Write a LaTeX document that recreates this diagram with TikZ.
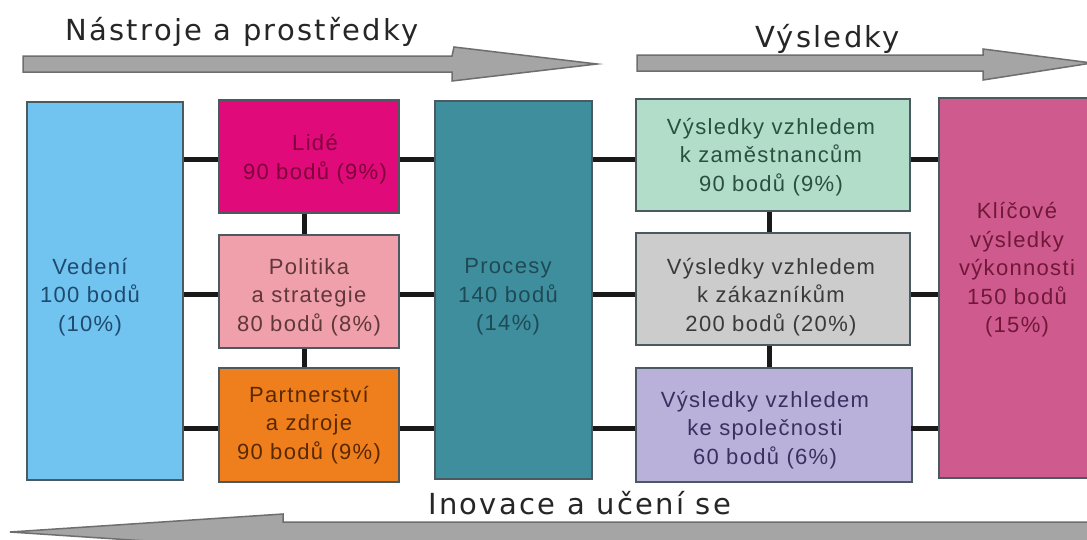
\documentclass[tikz,border=0pt]{standalone}
\usepackage{fontspec}
\setmainfont{Liberation Sans}[LetterSpace=6]
\newfontfamily\titlefont{DejaVu Sans}[LetterSpace=8]
\definecolor{cVed}{HTML}{72C4F0}
\definecolor{cLid}{HTML}{E00A7A}
\definecolor{cPol}{HTML}{F0A0AA}
\definecolor{cPar}{HTML}{EE7F1C}
\definecolor{cPro}{HTML}{3E8E9E}
\definecolor{cZam}{HTML}{B2DEC9}
\definecolor{cZak}{HTML}{CCCCCC}
\definecolor{cSpo}{HTML}{B9B1DA}
\definecolor{cKli}{HTML}{CF5A8E}
\definecolor{tVed}{HTML}{1E4A70}
\definecolor{tLid}{HTML}{80003A}
\definecolor{tPol}{HTML}{603838}
\definecolor{tPar}{HTML}{5A2800}
\definecolor{tPro}{HTML}{1E4A55}
\definecolor{tZam}{HTML}{2A5040}
\definecolor{tZak}{HTML}{3A3A3A}
\definecolor{tSpo}{HTML}{3A3060}
\definecolor{tKli}{HTML}{701838}
\definecolor{arrfill}{HTML}{A5A5A5}
\definecolor{arrline}{HTML}{6E6E6E}
\definecolor{boxline}{HTML}{4A5A60}
\begin{document}
\begin{tikzpicture}[x=1pt,y=-1pt,
  box/.style={draw=boxline, line width=1.3pt, rectangle, inner sep=0pt},
  txt/.style={align=center, inner sep=0pt, font=\fontsize{22}{28.5}\selectfont},
  ttl/.style={inner sep=0pt, font=\titlefont\fontsize{29}{34}\selectfont, text=black!85},
  conn/.style={line width=5pt, draw=black!90},
  bigarrow/.style={fill=arrfill, draw=arrline, line width=1.5pt, line join=miter}]
\useasboundingbox (0,0) rectangle (1087,539);
\clip (0,0) rectangle (1087,539);
\fill[white] (0,0) rectangle (1087,539);

% big arrows
\draw[bigarrow] (23,56) -- (452,56) -- (454,47) -- (597,64) -- (452,81) -- (452,72) -- (23,72) -- cycle;
\draw[bigarrow] (637,55) -- (983,55) -- (983,49) -- (1092,63) -- (983,80) -- (983,71) -- (637,71) -- cycle;
\draw[bigarrow] (1095,522) -- (283,522) -- (283,514) -- (10,532) -- (283,550) -- (283,542) -- (1095,542) -- cycle;

% titles
\node[ttl, anchor=base west] (t1) at (65,40) {Nástroje a prostředky};
\node[ttl, anchor=base west] (t2) at (755,47) {Výsledky};
\node[ttl, anchor=base west] (t3) at (428,514) {Inovace a učení se};

% row coordinates
\coordinate (r1) at (0,159);
\coordinate (r2) at (0,294);
\coordinate (r3) at (0,428);
\coordinate (c2) at (304,0);
\coordinate (c4) at (769,0);

% boxes
\node[box, fill=cVed, minimum width=156pt, minimum height=378pt] (ved) at (105,291) {};
\node[box, fill=cLid, minimum width=180pt, minimum height=113pt] (lid) at (309,156.5) {};
\node[box, fill=cPol, minimum width=180pt, minimum height=113pt] (pol) at (309,291.5) {};
\node[box, fill=cPar, minimum width=180pt, minimum height=114pt] (par) at (309,425) {};
\node[box, fill=cPro, minimum width=157pt, minimum height=378pt] (pro) at (513.5,290) {};
\node[box, fill=cZam, minimum width=274pt, minimum height=112pt] (zam) at (773,155) {};
\node[box, fill=cZak, minimum width=274pt, minimum height=112pt] (zak) at (773,289) {};
\node[box, fill=cSpo, minimum width=276pt, minimum height=114pt] (spo) at (774,425) {};
\node[box, fill=cKli, minimum width=150pt, minimum height=380pt] (kli) at (1014,288) {};

% connectors
\foreach \r in {r1,r2,r3}{
  \draw[conn] (ved.east |- \r) -- (lid.west |- \r);
  \draw[conn] (lid.east |- \r) -- (pro.west |- \r);
  \draw[conn] (pro.east |- \r) -- (zam.west |- \r);
  \draw[conn] (zam.east |- \r) -- (kli.west |- \r);
}
\draw[conn] (c2 |- lid.south) -- (c2 |- pol.north);
\draw[conn] (c2 |- pol.south) -- (c2 |- par.north);
\draw[conn] (c4 |- zam.south) -- (c4 |- zak.north);
\draw[conn] (c4 |- zak.south) -- (c4 |- spo.north);

% texts
\node[txt, text=tVed] (vedT) at (90,297) {Vedení\\100 bodů\\(10\%)};
\node[txt, text=tLid] (lidT) at (315,159) {Lidé\\90 bodů (9\%)};
\node[txt, text=tPol] (polT) at (309,297) {Politika\\a strategie\\80 bodů (8\%)};
\node[txt, text=tPar] (parT) at (309,425) {Partnerství\\a zdroje\\90 bodů (9\%)};
\node[txt, text=tPro] (proT) at (508,297) {Procesy\\140 bodů\\(14\%)};
\node[txt, text=tZam] (zamT) at (771,157) {Výsledky vzhledem\\k zaměstnancům\\90 bodů (9\%)};
\node[txt, text=tZak] (zakT) at (771,297) {Výsledky vzhledem\\k zákazníkům\\200 bodů (20\%)};
\node[txt, text=tSpo] (spoT) at (765,430) {Výsledky vzhledem\\ke společnosti\\60 bodů (6\%)};
\node[txt, text=tKli] (kliT) at (1017,270) {Klíčové\\výsledky\\výkonnosti\\150 bodů\\(15\%)};
\end{tikzpicture}
\end{document}
